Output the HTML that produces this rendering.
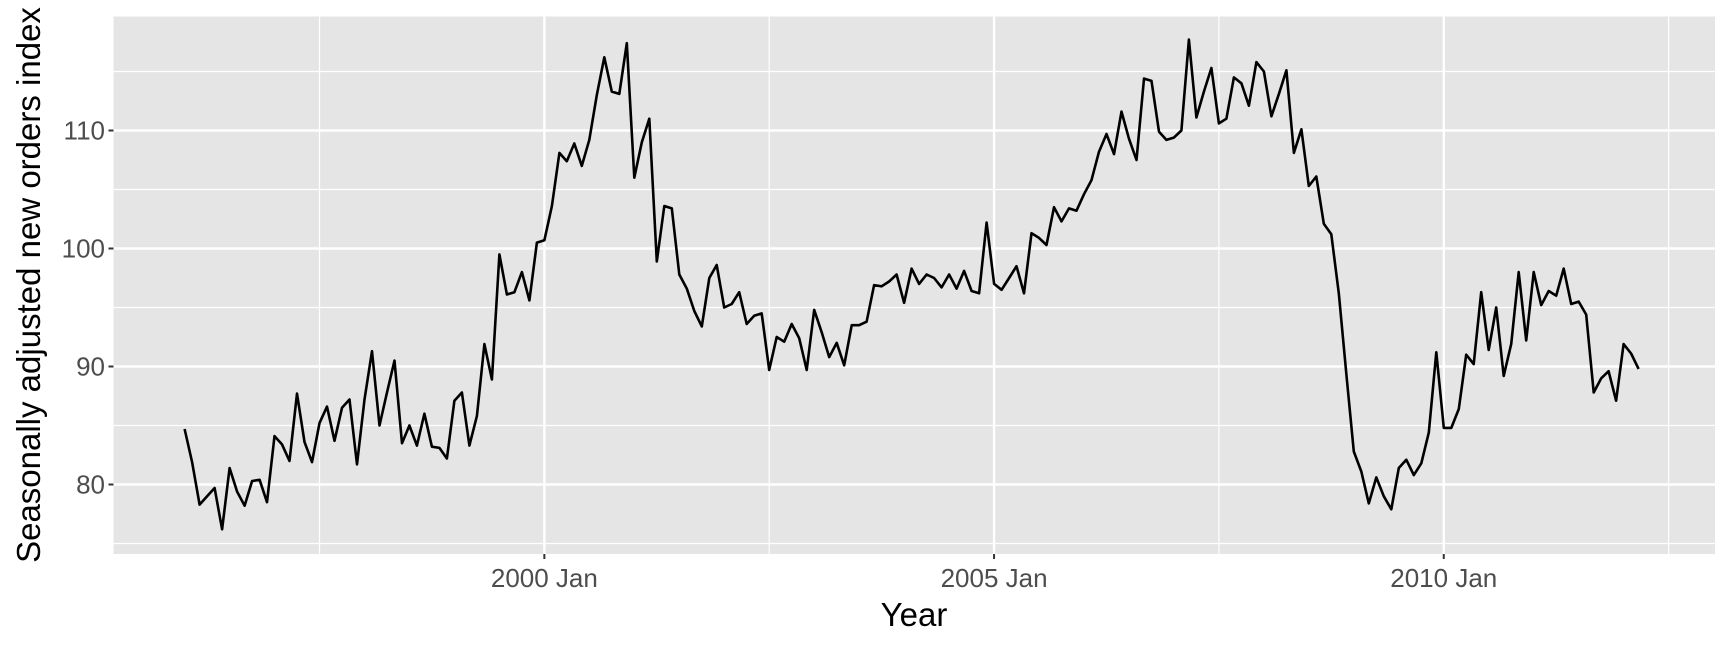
<!DOCTYPE html>
<html><head><meta charset="utf-8"><style>
html,body{margin:0;padding:0;background:#fff;}
svg{display:block;font-family:"Liberation Sans",Arial,sans-serif;}
</style></head><body>
<svg id="chart" width="1728" height="648" viewBox="0 0 1728 648">
<rect x="0" y="0" width="1728" height="648" fill="#fff"/>
<rect id="panel" x="113.5" y="16.5" width="1601.5" height="537.5" fill="#e5e5e5"/>
<g id="grid"></g>
<path id="line" fill="none" stroke="#000" stroke-width="2.6" stroke-linejoin="round"/>
<g id="axes"></g>
<text x="914" y="626" font-size="33" fill="#000" text-anchor="middle">Year</text>
<text transform="translate(40,285) rotate(-90)" font-size="33" fill="#000" text-anchor="middle">Seasonally adjusted new orders index</text>
</svg>
<script>
const startYear = 1996;
const values = [
84.7,81.9,78.3,79,79.7,76.2,81.4,79.4,78.2,80.3,80.4,78.5,
84.1,83.4,82,87.7,83.6,81.9,85.2,86.6,83.7,86.5,87.2,81.7,
87.2,91.3,85,87.8,90.5,83.5,85,83.3,86,83.2,83.1,82.2,
87.1,87.8,83.3,85.8,91.9,88.9,99.5,96.1,96.3,98,95.6,100.5,
100.7,103.6,108.1,107.4,108.9,107,109.2,113,116.2,113.3,113.1,117.4,
106,109,111,98.9,103.6,103.4,97.8,96.6,94.7,93.4,97.5,98.6,
95,95.3,96.3,93.6,94.3,94.5,89.7,92.5,92.1,93.6,92.4,89.7,
94.8,92.9,90.8,92,90.1,93.5,93.5,93.8,96.9,96.8,97.2,97.8,
95.4,98.3,97,97.8,97.5,96.7,97.8,96.6,98.1,96.4,96.2,102.2,
97,96.5,97.5,98.5,96.2,101.3,100.9,100.3,103.5,102.3,103.4,103.2,
104.6,105.8,108.2,109.7,108,111.6,109.3,107.5,114.4,114.2,109.9,109.2,
109.4,110,117.7,111.1,113.3,115.3,110.6,111,114.5,114,112.1,115.8,
115,111.2,113.1,115.1,108.1,110.1,105.3,106.1,102.1,101.2,96.2,89.4,
82.8,81.1,78.4,80.6,79,77.9,81.4,82.1,80.8,81.8,84.4,91.2,
84.8,84.8,86.4,91,90.2,96.3,91.4,95,89.2,91.9,98,92.2,
98,95.2,96.4,96,98.3,95.3,95.5,94.4,87.8,89,89.6,87.1,
91.9,91.1,89.8
];
const yTicks = [80, 90, 100, 110];
const yMinor = [75, 85, 95, 105, 115];
const xTickYears = [2000, 2005, 2010];
const xMinorYears = [1997.5, 2002.5, 2007.5, 2012.5];

const X0 = 184.6, DX = 7.495;
function xs(monthIdx){ return X0 + monthIdx*DX; }
function xy(year){ return xs((year-startYear)*12); }
function ys(v){ return 484.5 - (v-80)*11.8; }
const NS="http://www.w3.org/2000/svg";
const grid=document.getElementById('grid'), axes=document.getElementById('axes');
function ln(p,x1,y1,x2,y2,w,c){const l=document.createElementNS(NS,'line');
l.setAttribute('x1',x1);l.setAttribute('y1',y1);l.setAttribute('x2',x2);l.setAttribute('y2',y2);
l.setAttribute('stroke',c);l.setAttribute('stroke-width',w);p.appendChild(l);return l;}
yMinor.forEach(v=>{const l=ln(grid,113.5,ys(v),1715,ys(v),1.2,'#fff');

});
xMinorYears.forEach(y=>{const l=ln(grid,xy(y),16.5,xy(y),554,1.2,'#fff');

});
yTicks.forEach(v=>{const l=ln(grid,113.5,ys(v),1715,ys(v),2.4,'#fff');


const t=ln(axes,108.5,ys(v),113.5,ys(v),2,'#333');


const tx=document.createElementNS(NS,'text');tx.setAttribute('x',105);tx.setAttribute('y',ys(v)+9);
tx.setAttribute('text-anchor','end');tx.setAttribute('font-size','26');tx.setAttribute('fill','#4d4d4d');
tx.textContent=v;


axes.appendChild(tx);});
xTickYears.forEach(y=>{const x=xy(y);const l=ln(grid,x,16.5,x,554,2.4,'#fff');


const t=ln(axes,x,554,x,559,2,'#333');


const tx=document.createElementNS(NS,'text');tx.setAttribute('x',x);tx.setAttribute('y',587);
tx.setAttribute('text-anchor','middle');tx.setAttribute('font-size','26');tx.setAttribute('fill','#4d4d4d');
tx.textContent=y+' Jan';


axes.appendChild(tx);});
document.getElementById('line').setAttribute('d',values.map((v,i)=>(i?'L':'M')+xs(i).toFixed(1)+','+ys(v).toFixed(1)).join(''));
</script>
</body></html>
